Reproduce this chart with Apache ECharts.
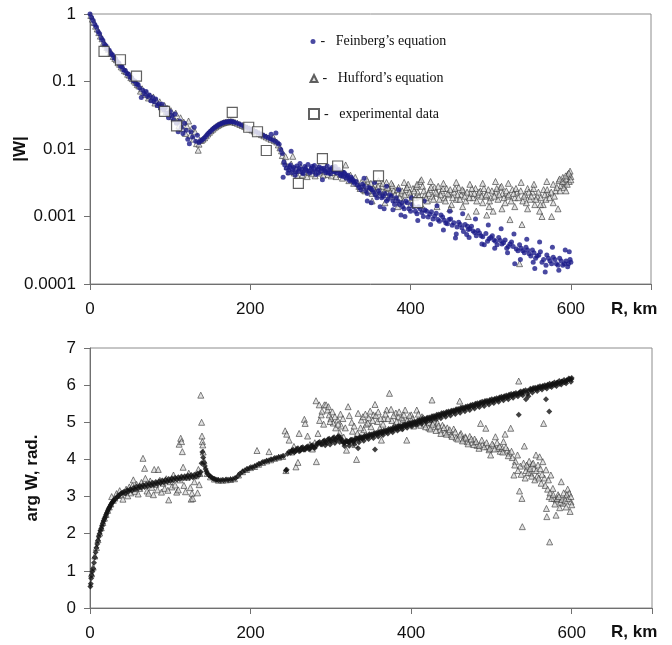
<!DOCTYPE html>
<html>
<head>
<meta charset="utf-8">
<title>|W| and arg W versus R</title>
<script src="https://cdn.jsdelivr.net/npm/echarts@6/dist/echarts.min.js"></script>
<style>
  html, body { margin: 0; padding: 0; background: #fff; }
  #chart { width: 672px; height: 645px; }
</style>
</head>
<body>
<div id="chart"></div>
<script>
'use strict';

// ---- tick labels ----
const rTicks = [0, 200, 400, 600];
const absTickLabels = ['0.0001', '0.001', '0.01', '0.1', '1'];
const argTicks = [0, 1, 2, 3, 4, 5, 6, 7];

const seriesNames = ['Feinberg\u2019s equation', 'Hufford\u2019s equation', 'experimental data'];

// ---- |W| : [R km, |W|] ----
const feinbergAbs = [
    [0,1],[2,0.89],[4,0.80],[6,0.70],[8,0.64],[10,0.55],[12,0.51],[14,0.44],[16,0.41],[18,0.355],
    [20,0.34],[22,0.30],[24,0.29],[26,0.26],[28,0.25],[30,0.225],[32,0.218],[34,0.196],[36,0.188],[38,0.168],
    [40,0.165],[42,0.148],[44,0.146],[46,0.131],[48,0.129],[50,0.116],[52,0.114],[54,0.103],[56,0.102],[58,0.091],
    [60,0.090],[62,0.080],[64,0.058],[66,0.074],[68,0.066],[70,0.071],[72,0.060],[74,0.063],[76,0.052],[78,0.058],
    [80,0.050],[82,0.055],[84,0.044],[86,0.047],[88,0.041],[90,0.046],[92,0.038],[94,0.041],[96,0.034],[98,0.029],
    [100,0.036],[102,0.031],[104,0.027],[106,0.033],[108,0.024],[110,0.018],[112,0.026],[114,0.021],[116,0.017],[118,0.024],
    [120,0.019],[122,0.014],[124,0.012],[126,0.018],[128,0.015],[130,0.021],[132,0.013],[134,0.016],[136,0.0125],
    [138,0.0132],[140,0.0136],[142,0.0143],[144,0.0152],[146,0.0162],[148,0.0172],[150,0.0182],[152,0.0192],[154,0.0201],
    [156,0.0210],[158,0.0218],[160,0.0226],[162,0.0233],[164,0.0239],[166,0.0244],[168,0.0248],[170,0.0251],[172,0.0253],
    [174,0.0255],[176,0.0255],[178,0.0254],[180,0.0250],[183,0.0243],[186,0.0234],[189,0.0226],[192,0.0218],[195,0.0210],
    [198,0.0203],[201,0.0195],[204,0.0187],[207,0.0180],[210,0.0172],[213,0.0166],[216,0.0160],[219,0.0153],[222,0.0148],
    [225,0.0142],[226,0.0165],[228,0.0136],[231,0.0130],[232,0.0172],[234,0.0124],[236,0.0118],[238,0.0098],[240,0.0086],
    [241,0.0038],[242,0.0064],[243,0.0058],[245,0.0052],[248,0.0049],[250,0.0058],[251,0.0093],[252,0.0045],[254,0.0053],
    [256,0.0041],[258,0.0056],[260,0.0047],[262,0.0061],[264,0.0050],[266,0.0043],[268,0.0055],[270,0.0048],[272,0.0059],
    [274,0.0044],[276,0.0052],[278,0.0046],[280,0.0057],[282,0.0042],[284,0.0050],[286,0.0054],[288,0.0047],[290,0.0035],
    [292,0.0052],[294,0.0045],[296,0.0056],[298,0.0049],[300,0.0043],[302,0.0053],[304,0.0047],[306,0.0055],[308,0.0044],
    [310,0.0050],[312,0.0042],[314,0.0046],[316,0.0039],[318,0.0043],[320,0.0037],[322,0.0041],[324,0.0034],[326,0.0038],
    [328,0.0035],[330,0.0031],[332,0.0033],[336,0.0027],[340,0.0030],[344,0.0024],[348,0.0027],[351,0.0016],[352,0.0025],
    [356,0.0021],[360,0.0024],[364,0.0019],[367,0.0013],[368,0.0022],[372,0.0018],[376,0.0020],[380,0.0015],[384,0.0017],
    [388,0.00105],[389,0.0016],[392,0.0013],[396,0.0016],[400,0.0012],[404,0.0014],[408,0.0011],[412,0.0013],[416,0.0010],
    [420,0.0012],[424,0.00108],[428,0.00092],[432,0.00112],[436,0.00085],[440,0.00098],[444,0.00080],[448,0.00090],
    [452,0.00074],[456,0.00048],[460,0.00082],[464,0.00068],[468,0.00076],[470,0.00054],[472,0.00064],[476,0.00072],
    [480,0.00058],[484,0.00062],[488,0.00052],[492,0.00038],[494,0.00056],[498,0.00047],[502,0.00052],[506,0.00043],
    [510,0.00049],[514,0.00039],[518,0.00045],[522,0.00036],[526,0.00042],[530,0.00020],[532,0.00033],[536,0.00038],
    [540,0.00031],[544,0.00035],[548,0.00028],[552,0.00032],[555,0.00017],[558,0.00026],[562,0.00030],[566,0.00023],
    [568,0.00015],[570,0.00027],[574,0.00022],[578,0.00025],[582,0.00020],[586,0.00024],[590,0.00019],[594,0.00022],
    [597,0.00020],[600,0.00021],
    // second pass through the dense band
    [247,0.0044],[249,0.0055],[253,0.0050],[257,0.0046],[261,0.0052],[265,0.0045],[269,0.0051],[273,0.0047],[277,0.0055],
    [281,0.0049],[285,0.0044],[289,0.0052],[293,0.0048],[297,0.0044],[301,0.0050],[305,0.0046],[309,0.0048],[313,0.0040],
    [317,0.0045],[321,0.0039],[325,0.0036],[329,0.0033],[334,0.0029],[338,0.0025],[342,0.0028],[346,0.0022],[350,0.0026],
    [354,0.0023],[358,0.0019],[362,0.0022],[366,0.0020],[370,0.0017],[374,0.0021],[378,0.0017],[382,0.0019],[386,0.0015],
    [390,0.0014],[394,0.0017],[398,0.0013],[402,0.0015],[406,0.0012],[410,0.0014],[414,0.00115],[418,0.00125],[422,0.00098],
    [426,0.00118],[430,0.00102],[434,0.00090],[438,0.00105],[442,0.00088],[446,0.00078],[450,0.00092],[454,0.00081],
    [458,0.00070],[462,0.00076],[466,0.00060],[471,0.00072],[474,0.00066],[478,0.00061],[482,0.00052],[486,0.00057],
    [490,0.00050],[496,0.00043],[500,0.00049],[504,0.00045],[508,0.00038],[512,0.00044],[516,0.00041],[520,0.00034],
    [524,0.00039],[528,0.00036],[534,0.00031],[538,0.00034],[542,0.00029],[546,0.00032],[550,0.00026],[554,0.00029],
    [556,0.00024],[560,0.00027],[564,0.00021],[572,0.00024],[576,0.00020],[580,0.00023],[584,0.00019],[588,0.00022],
    [592,0.00020],[596,0.00018],[599,0.00023],
    // the upper and lower edges of the band
    [342,0.0037],[346,0.0017],[355,0.0032],[362,0.0014],[370,0.0028],[378,0.00126],[385,0.0025],[393,0.0010],[401,0.0019],
    [409,0.00087],[417,0.0017],[425,0.00076],[433,0.00144],[441,0.00063],[449,0.0012],[457,0.00055],[465,0.0011],
    [473,0.00049],[481,0.00092],[489,0.00039],[497,0.00075],[505,0.00034],[513,0.00066],[521,0.00029],[529,0.00055],
    [537,0.00023],[545,0.00046],[553,0.00021],[561,0.00042],[569,0.00019],[577,0.00035],[585,0.00016],[593,0.00032],
    [598,0.00030]
];

const huffordAbs = [
    [1,0.95],[3,0.84],[5,0.75],[7,0.66],[9,0.60],[11,0.53],[13,0.47],[15,0.43],[17,0.38],[19,0.35],
    [21,0.32],[23,0.30],[25,0.27],[27,0.26],[29,0.235],[31,0.22],[33,0.21],[35,0.19],[37,0.18],[39,0.165],
    [41,0.158],[43,0.145],[45,0.14],[47,0.128],[49,0.124],[51,0.114],[53,0.110],[55,0.102],[57,0.097],[59,0.090],
    [61,0.086],[63,0.072],[65,0.078],[67,0.069],[69,0.064],[71,0.067],[73,0.057],[75,0.061],[77,0.055],[79,0.059],
    [81,0.048],[83,0.052],[85,0.046],[87,0.050],[89,0.042],[91,0.039],[93,0.044],[95,0.036],[97,0.040],[99,0.033],
    [101,0.037],[103,0.030],[105,0.028],[107,0.034],[109,0.026],[111,0.022],[113,0.029],[115,0.020],[117,0.025],[119,0.017],
    [121,0.022],[123,0.026],[125,0.016],[127,0.020],[129,0.014],[131,0.018],[133,0.012],[135,0.0096],[136,0.0118],[137,0.0135],
    [139,0.0134],[141,0.0140],[143,0.0147],[145,0.0157],[147,0.0167],[149,0.0177],[151,0.0187],[153,0.0196],[155,0.0206],
    [157,0.0214],[159,0.0222],[161,0.0229],[163,0.0236],[165,0.0241],[167,0.0246],[169,0.0250],[171,0.0252],[173,0.0254],
    [175,0.0256],[177,0.0255],[179,0.0252],[181,0.0247],[184,0.0240],[187,0.0231],[190,0.0223],[193,0.0215],[196,0.0207],
    [199,0.0199],[202,0.0191],[205,0.0184],[208,0.0177],[211,0.0170],[214,0.0163],[217,0.0157],[220,0.0151],[223,0.0145],
    [226,0.0139],[229,0.0148],[230,0.0133],[233,0.0127],[235,0.0115],[237,0.0104],[239,0.0094],[240,0.0080],[242,0.0066],
    [244,0.0077],[246,0.0055],[249,0.0046],[251,0.0060],[253,0.0078],[255,0.0044],[257,0.0051],[259,0.0040],[261,0.0048],
    [263,0.0054],[265,0.0041],[267,0.0046],[269,0.0052],[271,0.0039],[273,0.0045],[275,0.0050],[277,0.0043],[279,0.0054],
    [281,0.0040],[283,0.0047],[285,0.0053],[287,0.0044],[289,0.0049],[291,0.0041],[293,0.0047],[295,0.0054],[297,0.0042],
    [299,0.0048],[301,0.0040],[303,0.0045],[305,0.0051],[307,0.0039],[309,0.0046],[313,0.0042],[315,0.0037],[317,0.0044],
    [319,0.0058],[321,0.0039],[323,0.0034],[325,0.0041],[327,0.0036],[329,0.0031],[331,0.0038],[334,0.0031],[337,0.0026],
    [340,0.0029],[343,0.0024],[346,0.0033],[349,0.0027],[352,0.0022],[355,0.0030],[358,0.0025],[361,0.0021],[364,0.0028],
    [367,0.0023],[370,0.0032],[373,0.0026],[376,0.0020],[379,0.0024],[382,0.0018],[385,0.0027],[388,0.0022],[391,0.0017],
    [394,0.0025],[397,0.0030],[400,0.0021],[403,0.0026],[406,0.0019],[409,0.0023],[412,0.0033],[415,0.0028],[418,0.0021],
    [421,0.0017],[424,0.0025],[427,0.0020],[430,0.0027],[433,0.0022],[436,0.0018],[439,0.0024],[442,0.0019],[445,0.0026],
    [448,0.0021],[451,0.0015],[454,0.0023],[457,0.0018],[460,0.0027],[463,0.0021],[466,0.0024],[469,0.0017],[472,0.0010],
    [475,0.0022],[478,0.0019],[481,0.0026],[484,0.0021],[487,0.0024],[490,0.0016],[493,0.0020],[495,0.00105],[497,0.0025],
    [500,0.0019],[503,0.0012],[506,0.0023],[509,0.0018],[512,0.0027],[515,0.0022],[518,0.0016],[521,0.0020],[524,0.0009],
    [527,0.0025],[530,0.0019],[533,0.0023],[536,0.0002],[539,0.00076],[540,0.0017],[543,0.0021],[546,0.0026],[549,0.0018],
    [552,0.0023],[555,0.0015],[558,0.0020],[561,0.0012],[564,0.0010],[566,0.0025],[569,0.0018],[572,0.0022],[576,0.0010],
    [578,0.0030],[581,0.0024],[584,0.0013],[585,0.0034],[588,0.0029],[590,0.0038],[592,0.0031],[594,0.0036],[596,0.0042],
    [598,0.0033],[599,0.0047],[600,0.0039],
    // second pass through the flat tail
    [335.5,0.0028],[338.5,0.0032],[341.5,0.0025],[344.5,0.0029],[347.5,0.0024],[350.5,0.0031],[353.5,0.0026],[356.5,0.0023],
    [359.5,0.0028],[362.5,0.0024],[365.5,0.0031],[368.5,0.0021],[371.5,0.0027],[374.5,0.0023],[377.5,0.0029],[380.5,0.0021],
    [383.5,0.0025],[386.5,0.0019],[389.5,0.0024],[392.5,0.0021],[395.5,0.0027],[398.5,0.0023],[401.5,0.0019],[404.5,0.0024],
    [407.5,0.0028],[410.5,0.0020],[413.5,0.0035],[416.5,0.0024],[419.5,0.0019],[422.5,0.0022],[425.5,0.0027],[428.5,0.0018],
    [431.5,0.0023],[434.5,0.0028],[437.5,0.0021],[440.5,0.0026],[443.5,0.0017],[446.5,0.0022],[449.5,0.0025],[452.5,0.0019],
    [455.5,0.0026],[458.5,0.0021],[461.5,0.0018],[464.5,0.0025],[467.5,0.0020],[470.5,0.0023],[473.5,0.0019],[476.5,0.0026],
    [479.5,0.0022],[482.5,0.0017],[485.5,0.0023],[488.5,0.0020],[491.5,0.0026],[494.5,0.0021],[498.5,0.0017],[501.5,0.0024],
    [504.5,0.0020],[507.5,0.0026],[510.5,0.0021],[513.5,0.0028],[516.5,0.0019],[519.5,0.0024],[522.5,0.0021],[525.5,0.0017],
    [528.5,0.0022],[531.5,0.0026],[534.5,0.0019],[537.5,0.0024],[541.5,0.0020],[544.5,0.0016],[547.5,0.0023],[550.5,0.0020],
    [553.5,0.0026],[556.5,0.0018],[559.5,0.0023],[562.5,0.0019],[565.5,0.0015],[567.5,0.0021],[570.5,0.0025],[573.5,0.0019],
    [575.5,0.0023],[579.5,0.0020],[582.5,0.0027],[586.5,0.0024],[589.5,0.0033],[591.5,0.0027],[593.5,0.0040],[595.5,0.0030],
    [597.5,0.0044],[600,0.0035],
    // the upper and lower edges of the tail
    [345,0.0036],[352,0.0017],[360,0.0034],[368,0.0016],[376,0.0031],[384,0.0014],[392,0.0032],[400,0.0015],[408,0.0030],
    [416,0.0013],[425,0.0033],[433,0.0014],[441,0.0031],[449,0.0013],[457,0.0032],[465,0.0014],[474,0.0030],[482,0.0012],
    [490,0.0031],[498,0.0014],[506,0.0033],[514,0.0013],[522,0.0031],[530,0.0014],[538,0.0032],[546,0.0013],[554,0.0030],
    [562,0.0015],[570,0.0033],[578,0.0016],[586,0.0036],[594,0.0024]
];

const experimentalAbs = [
    [17.5,0.28],[38,0.21],[58,0.12],[93,0.036],[108,0.022],[177.5,0.035],[198,0.021],
    [209,0.018],[220,0.0095],[260,0.0031],[290,0.0072],[309,0.0056],[360,0.004],[409,0.0016]
];

// ---- arg W : [R km, rad] ----
const feinbergArg = [
    [0.5,0.58],[1,0.65],[1.5,0.80],[2,0.88],[3,0.98],[4,1.06],[5,1.22],[6,1.36],[7,1.50],[8,1.62],
    [9,1.72],[10,1.82],[11,1.92],[12,2.00],[13,2.08],[14,2.14],[15,2.21],[16,2.28],[17,2.34],[18,2.40],
    [19,2.45],[20,2.51],[21,2.56],[22,2.61],[23,2.66],[24,2.70],[25,2.74],[26,2.78],[27,2.82],[28,2.85],
    [29,2.88],[30,2.91],[32,2.95],[34,2.99],[36,3.03],[38,3.07],[40,3.10],[42,3.12],[44,3.08],[46,3.17],
    [48,3.14],[50,3.20],[52,3.16],[54,3.23],[56,3.19],[58,3.27],[60,3.22],[62,3.29],[64,3.24],[66,3.31],
    [68,3.26],[70,3.33],[72,3.28],[74,3.35],[76,3.30],[78,3.37],[80,3.32],[82,3.39],[84,3.34],[86,3.41],
    [88,3.36],[90,3.43],[92,3.38],[94,3.45],[96,3.40],[98,3.47],[100,3.42],[102,3.49],[104,3.44],[106,3.51],
    [108,3.46],[110,3.52],[112,3.47],[114,3.54],[116,3.49],[118,3.55],[120,3.50],[122,3.57],[124,3.51],[126,3.58],
    [128,3.52],[130,3.59],[132,3.54],[134,3.62],[136,3.58],[138,3.66],[139,3.90],[140,4.20],[141,4.05],[142,3.92],
    [143,3.82],[144,3.74],[145,3.68],[146,3.63],[148,3.58],[150,3.54],[152,3.51],[154,3.48],[156,3.46],[158,3.45],
    [160,3.44],[163,3.44],[166,3.44],[169,3.45],[172,3.45],[175,3.46],[178,3.47],[181,3.49],[184,3.55],[187,3.62],
    [190,3.67],[193,3.71],[196,3.74],[199,3.77],[202,3.79],[205,3.81],[208,3.85],[211,3.88],[214,3.91],[217,3.94],
    [220,3.96],[223,3.98],[226,4.00],[229,4.02],[232,4.04],[235,4.06],[238,4.07],[241,4.09],[244,3.70],[245,3.72],
    [246,4.15],[248,4.21],[250,4.18],[253,4.26],[256,4.22],[259,4.30],[262,4.24],[265,4.33],[268,4.27],[271,4.35],
    [274,4.29],[277,4.38],[280,4.31],[283,4.42],[286,4.47],[289,4.40],[292,4.51],[295,4.45],[298,4.56],[301,4.49],
    [304,4.60],[307,4.52],[310,4.63],[313,4.55],[316,4.44],[319,4.50],[322,4.46],[325,4.53],[328,4.49],[331,4.57],
    [334,4.30],[336,4.60],[339,4.56],[342,4.64],[345,4.60],[348,4.68],[351,4.63],[354,4.71],[355,4.27],[357,4.67],
    [360,4.74],[363,4.70],[366,4.78],[369,4.74],[372,4.82],[375,4.78],[378,4.86],[381,4.82],[384,4.90],[387,4.86],
    [390,4.93],[393,4.89],[396,4.97],[399,4.93],[402,5.01],[405,4.97],[408,5.05],[411,5.01],[414,5.09],[417,5.05],
    [420,5.12],[423,5.09],[426,5.16],[429,5.12],[432,5.20],[435,5.16],[438,5.24],[441,5.20],[444,5.28],[447,5.24],
    [450,5.31],[453,5.28],[456,5.35],[459,5.31],[462,5.39],[465,5.35],[468,5.42],[471,5.39],[474,5.46],[477,5.42],
    [480,5.50],[483,5.46],[486,5.53],[489,5.50],[492,5.57],[495,5.53],[498,5.60],[501,5.56],[504,5.63],[507,5.60],
    [510,5.67],[513,5.64],[516,5.70],[519,5.67],[522,5.74],[525,5.71],[528,5.77],[531,5.74],[534,5.20],[535,5.80],
    [537,5.77],[540,5.84],[543,5.62],[546,5.70],[549,5.87],[552,5.92],[555,5.89],[558,5.95],[561,5.92],[564,5.98],
    [567,5.95],[568,5.62],[570,6.01],[572,5.29],[573,5.98],[576,6.04],[579,6.01],[582,6.07],[585,6.04],[588,6.10],
    [591,6.08],[594,6.13],[597,6.16],[600,6.19],
    // second pass through the rising band
    [251.5,4.24],[254.5,4.19],[257.5,4.28],[260.5,4.22],[263.5,4.31],[266.5,4.26],[269.5,4.33],[272.5,4.28],[275.5,4.37],
    [278.5,4.32],[281.5,4.36],[284.5,4.45],[287.5,4.41],[290.5,4.49],[293.5,4.46],[296.5,4.54],[299.5,4.50],[302.5,4.57],
    [305.5,4.53],[308.5,4.60],[311.5,4.57],[314.5,4.48],[317.5,4.45],[320.5,4.49],[323.5,4.47],[326.5,4.53],[329.5,4.51],
    [332.5,4.56],[335.5,4.55],[338.5,4.60],[341.5,4.59],[344.5,4.64],[347.5,4.63],[350.5,4.67],[353.5,4.66],[356.5,4.71],
    [359.5,4.70],[362.5,4.75],[365.5,4.73],[368.5,4.78],[371.5,4.77],[374.5,4.82],[377.5,4.80],[380.5,4.86],[383.5,4.85],
    [386.5,4.90],[389.5,4.88],[392.5,4.94],[395.5,4.92],[398.5,4.97],[401.5,4.96],[404.5,5.01],[407.5,4.99],[410.5,5.05],
    [413.5,5.04],[416.5,5.09],[419.5,5.08],[422.5,5.13],[425.5,5.11],[428.5,5.17],[431.5,5.15],[434.5,5.21],[437.5,5.19],
    [440.5,5.25],[443.5,5.23],[446.5,5.29],[449.5,5.27],[452.5,5.32],[455.5,5.31],[458.5,5.36],[461.5,5.34],[464.5,5.40],
    [467.5,5.38],[470.5,5.43],[473.5,5.42],[476.5,5.47],[479.5,5.45],[482.5,5.51],[485.5,5.49],[488.5,5.55],[491.5,5.53],
    [494.5,5.58],[497.5,5.56],[500.5,5.62],[503.5,5.60],[506.5,5.65],[509.5,5.63],[512.5,5.69],[515.5,5.67],[518.5,5.72],
    [521.5,5.70],[524.5,5.76],[527.5,5.74],[530.5,5.79],[533.5,5.77],[536.5,5.83],[539.5,5.80],[542.5,5.86],[545.5,5.84],
    [548.5,5.90],[551.5,5.88],[554.5,5.93],[557.5,5.91],[560.5,5.97],[563.5,5.95],[566.5,6.00],[569.5,5.98],[572.5,6.04],
    [575.5,6.02],[578.5,6.07],[581.5,6.05],[584.5,6.11],[587.5,6.09],[590.5,6.14],[593.5,6.12],[596.5,6.18],[599.5,6.16],
    // lower strand of the band
    [293,4.38],[299,4.40],[305,4.44],[311,4.47],[317,4.36],[323,4.37],[329,4.41],[335,4.46],[341,4.50],[347,4.55],
    [353,4.58],[359,4.62],[365,4.66],[371,4.70],[377,4.73],[383,4.78],[389,4.81],[395,4.85],[401,4.89],[407,4.93],
    [413,4.96],[419,5.00],[425,5.04],[431,5.08],[437,5.11],[443,5.15],[449,5.18],[455,5.22],[461,5.26],[467,5.30],
    [473,5.33],[479,5.37],[485,5.41],[491,5.44],[497,5.48],[503,5.52],[509,5.55],[515,5.59],[521,5.62],[527,5.66],
    [533,5.70],[539,5.73],[545,5.77],[551,5.80],[557,5.84],[563,5.88],[569,5.91],[575,5.95],[581,5.98],[587,6.02],
    [593,6.05],[599,6.09]
];

const huffordArg = [
    [2,0.92],[4,1.10],[6,1.40],[8,1.63],[10,1.84],[12,2.02],[14,2.16],[16,2.30],[18,2.42],[20,2.52],
    [22,2.63],[24,2.72],[26,2.80],[27,3.00],[29,2.90],[31,2.96],[33,3.08],[35,3.03],[37,3.16],[39,3.05],
    [41,2.93],[43,3.12],[45,3.20],[47,3.02],[49,3.26],[51,3.10],[53,3.30],[54,3.45],[56,3.14],[58,3.33],
    [60,3.07],[62,3.22],[64,3.38],[66,4.03],[68,3.76],[69,3.49],[71,3.15],[73,3.09],[75,3.42],[77,3.25],
    [79,3.05],[80,3.73],[82,3.33],[84,3.18],[85,3.73],[87,3.44],[89,3.12],[91,3.36],[93,3.22],[95,3.48],
    [97,3.17],[98,2.91],[100,3.40],[102,3.26],[104,3.58],[106,3.31],[108,3.12],[110,3.18],[111,4.41],[112,3.45],
    [113,4.57],[114,4.48],[115,4.21],[116,3.79],[117,3.30],[119,3.13],[121,3.52],[123,3.63],[125,3.24],[126,2.93],
    [127,3.09],[128,2.95],[130,3.40],[132,3.56],[134,3.10],[135,3.73],[136,3.32],[137,3.62],[138,5.73],[139,5.00],
    [139.5,4.63],[140,4.48],[140.5,4.39],[141,4.20],[142,3.96],[146,3.62],[150,3.53],[155,3.47],[160,3.44],[165,3.44],
    [170,3.45],[175,3.46],[180,3.48],[185,3.58],[190,3.67],[195,3.73],[200,3.78],[205,3.81],[208,4.24],[210,3.87],
    [215,3.92],[220,3.96],[223,4.21],[225,3.99],[230,4.03],[235,4.06],[240,4.08],[243,4.77],[244,3.70],[245,4.68],
    [248,4.52],[251,4.20],[254,4.35],[256.5,3.80],[259,3.92],[260.5,4.70],[263,4.30],[267,5.08],[268,4.97],[271,4.63],
    [274,4.40],[277,4.28],[280,4.45],[281.5,5.58],[282,3.94],[284,4.70],[285.5,5.47],[288,5.20],[291,4.95],[292,5.47],
    [294,5.47],[296,5.33],[298,5.20],[300,5.10],[303,4.98],[306,4.85],[308.5,5.06],[311,4.72],[313,4.90],[316,4.60],
    [319.5,4.25],[321.5,5.42],[324,4.50],[327,4.76],[330,4.40],[332,4.00],[334,5.24],[336,4.62],[338,5.06],[341,4.80],
    [344,4.95],[347,5.12],[350,4.88],[353,5.20],[355,5.48],[358,5.02],[361,4.84],[363,4.52],[366,5.10],[369.5,5.33],
    [373,5.78],[376,5.05],[379,4.92],[381,5.25],[384,5.15],[387,4.85],[390,5.08],[392.5,5.33],[394.5,4.52],[397,5.00],
    [400,5.20],[403,4.90],[407,5.33],[410,5.05],[413.5,5.15],[416,4.95],[419,5.08],[422,4.85],[426,5.60],[428,5.00],
    [430,4.88],[433,4.98],[436,4.80],[439,4.92],[442,4.72],[445,4.85],[447,4.75],[450,4.66],[453,4.82],[456,4.58],
    [460.5,5.57],[462,4.70],[465,4.55],[467.5,4.61],[470,4.48],[473,4.62],[476,4.45],[479,4.55],[482,4.38],[484.5,4.30],
    [486.5,4.97],[489,4.40],[493,4.84],[495,4.35],[497,4.26],[499,4.12],[502,4.38],[505,4.61],[508,4.30],[511,4.22],
    [513.5,4.30],[515,4.48],[517,4.68],[520,4.25],[522,4.17],[524,4.84],[526,4.05],[528,3.58],[530,3.95],[532.5,4.12],
    [534,6.11],[535,3.15],[536,3.82],[538,2.95],[538.5,2.19],[541,4.36],[543,3.70],[545,3.80],[547,3.95],[549,3.63],
    [551,3.88],[553,3.75],[555.5,4.12],[557,3.55],[560,4.07],[562,3.36],[564,3.94],[565,4.97],[566,3.50],[568,3.72],
    [568.5,2.68],[569,2.46],[571,3.45],[572,3.00],[572.5,1.78],[574,3.58],[576.5,3.22],[578,2.95],[580.5,2.50],[581,2.91],
    [583,3.05],[585,2.70],[587,3.40],[589,2.82],[591,2.95],[593,2.72],[595,3.20],[597,3.09],[598,2.60],[599,2.86],[600,2.78],
    // second pass through the triangle cloud
    [286,5.05],[289,5.30],[297,5.42],[299,5.02],[302,5.28],[305,5.15],[309,4.95],[312,5.22],[315,5.10],[318,4.85],
    [323,5.18],[326,5.00],[329,4.90],[333,4.70],[337,4.85],[340,5.15],[343,5.22],[346,4.98],[349,5.30],[352,5.05],
    [356,5.18],[359,5.28],[362,5.10],[365,4.95],[368,5.22],[371,5.10],[375,5.35],[378,5.18],[382,5.02],[385,5.28],
    [388,5.12],[391,5.20],[395,5.05],[398,5.18],[402,5.10],[405,4.98],[409,5.22],[412,4.92],[415,5.12],[418,4.88],
    [421,5.00],[424,4.82],[427,4.95],[431,4.78],[434,4.90],[437,4.70],[441,4.86],[444,4.68],[448,4.80],[451,4.62],
    [455,4.74],[458,4.55],[461,4.66],[464,4.50],[468,4.58],[471,4.42],[475,4.55],[478,4.40],[481,4.48],[485,4.38],
    [488,4.52],[491,4.34],[494,4.45],[498,4.30],[501,4.42],[504,4.28],[507,4.45],[510,4.35],[514,4.20],[518,4.32],
    [521,4.10],[525,4.22],[529,3.85],[533,3.70],[537,3.60],[540,3.90],[542,3.50],[544,3.85],[546,3.65],[548,3.75],
    [550,3.55],[552,3.90],[554,3.45],[556,3.70],[558,3.85],[559,3.50],[561,3.75],[563,3.60],[567,3.30],[570,3.20],
    [573,3.10],[575,2.95],[577,3.05],[579,2.80],[582,2.95],[584,3.00],[586,2.85],[588,2.92],[590,3.10],[592,2.90],
    [594,3.05],[596,2.95],[599,3.00]
];

// ---- look ----
const sans = 'Liberation Sans, Arial, sans-serif';
const serif = 'Liberation Serif, Times New Roman, serif';
const axisGray = '#707070';
const frameGray = '#8c8c8c';

const triangleStyle = { color: 'rgba(205,205,205,0.75)', borderColor: '#3a3a3a', borderWidth: 0.8 };

function xAxisFor(gridIndex) {
    return {
        type: 'value', gridIndex: gridIndex, min: 0, max: 700, interval: 200,
        axisLine: { show: true, onZero: false, lineStyle: { color: axisGray, width: 1 } },
        axisTick: { show: true, length: 6, lineStyle: { color: axisGray } },
        axisLabel: {
            margin: 17, fontFamily: sans, fontSize: 17, color: '#111',
            formatter: v => rTicks.includes(v) ? String(v) : ''
        },
        splitLine: { show: false }
    };
}

// one legend per entry, so each marker keeps its own size
function legendFor(name, y, size) {
    return {
        data: [name], orient: 'vertical', left: 313 - size / 2, top: y - size / 2, padding: 0,
        itemWidth: size, itemHeight: size, selectedMode: false,
        formatter: '-   {name}',
        textStyle: { fontFamily: serif, fontSize: 14, color: '#111' }
    };
}

let chart = echarts.init(document.getElementById('chart'), null, { renderer: 'canvas' });

let option = {
    animation: false,
    backgroundColor: '#fff',
    grid: [
        { left: 90, top: 14, right: 21, height: 270, show: true, borderColor: frameGray, borderWidth: 1, outerBoundsMode: 'none' },
        { left: 90, top: 348, right: 20, height: 260, show: true, borderColor: frameGray, borderWidth: 1, outerBoundsMode: 'none' }
    ],
    xAxis: [xAxisFor(0), xAxisFor(1)],
    yAxis: [
        {
            type: 'log', logBase: 10, gridIndex: 0, min: 0.0001, max: 1,
            axisLine: { show: true, onZero: false, lineStyle: { color: axisGray } },
            axisTick: { show: true, length: 6, lineStyle: { color: axisGray } },
            minorTick: { show: false },
            axisLabel: {
                margin: 14, fontFamily: sans, fontSize: 17, color: '#111',
                formatter: v => absTickLabels[Math.round(Math.log10(v)) + 4] || ''
            },
            splitLine: { show: false },
            name: '|W|', nameLocation: 'middle', nameGap: 61, nameMoveOverlap: false,
            nameTextStyle: { fontFamily: sans, fontSize: 17, fontWeight: 'bold', color: '#111' }
        },
        {
            type: 'value', gridIndex: 1, min: 0, max: 7, interval: 1,
            axisLine: { show: true, onZero: false, lineStyle: { color: axisGray } },
            axisTick: { show: true, length: 6, lineStyle: { color: axisGray } },
            axisLabel: {
                margin: 14, fontFamily: sans, fontSize: 17, color: '#111',
                formatter: v => argTicks.includes(v) ? String(v) : ''
            },
            splitLine: { show: false },
            name: 'arg W, rad.', nameLocation: 'middle', nameGap: 49, nameMoveOverlap: false,
            nameTextStyle: { fontFamily: sans, fontSize: 17, fontWeight: 'bold', color: '#111' }
        }
    ],
    legend: [
        legendFor(seriesNames[0], 37, 5),
        legendFor(seriesNames[1], 75, 7),
        legendFor(seriesNames[2], 112, 10)
    ],
    graphic: [
        { type: 'text', left: 611, top: 301, style: { text: 'R, km', fontFamily: sans, fontSize: 17, fontWeight: 'bold', fill: '#111' } },
        { type: 'text', left: 611, top: 624, style: { text: 'R, km', fontFamily: sans, fontSize: 17, fontWeight: 'bold', fill: '#111' } }
    ],
    series: [
        // upper panel; triangles under the dots, squares on top
        {
            name: seriesNames[1], type: 'scatter', xAxisIndex: 0, yAxisIndex: 0,
            symbol: 'triangle', symbolSize: 6, itemStyle: triangleStyle, data: huffordAbs
        },
        {
            name: seriesNames[0], type: 'scatter', xAxisIndex: 0, yAxisIndex: 0,
            symbol: 'circle', symbolSize: 5, itemStyle: { color: '#1c1c8a' }, data: feinbergAbs
        },
        {
            name: seriesNames[2], type: 'scatter', xAxisIndex: 0, yAxisIndex: 0,
            symbol: 'rect', symbolSize: 10,
            itemStyle: { color: '#fff', borderColor: '#3a3a3a', borderWidth: 1.2 }, data: experimentalAbs
        },
        // lower panel
        {
            name: 'Hufford arg', type: 'scatter', xAxisIndex: 1, yAxisIndex: 1,
            symbol: 'triangle', symbolSize: 6, itemStyle: triangleStyle, data: huffordArg
        },
        {
            name: 'Feinberg arg', type: 'scatter', xAxisIndex: 1, yAxisIndex: 1,
            symbol: 'diamond', symbolSize: 6, itemStyle: { color: '#111' }, data: feinbergArg
        }
    ]
};

chart.setOption(option);
</script>
</body>
</html>
